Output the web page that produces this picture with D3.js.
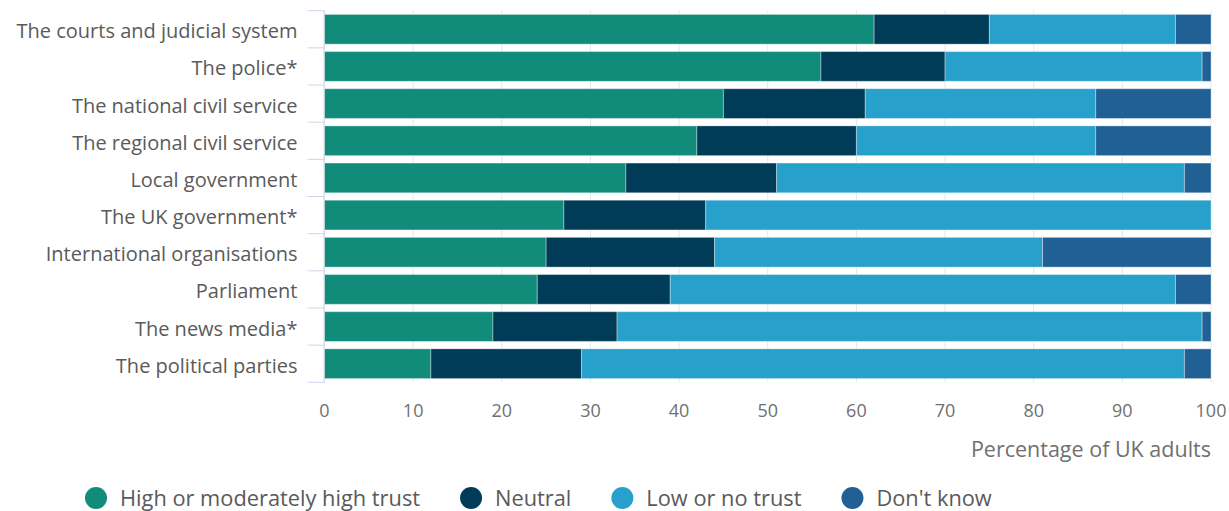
<!DOCTYPE html>
<html>
<head>
<meta charset="utf-8">
<script src="https://cdn.jsdelivr.net/npm/d3@7"></script>
<style>
	body { margin: 0; background: #fff; }
	text { font-family: 'Open Sans', sans-serif; }
</style>
</head>
<body>
<div id="chart"></div>
<script>
const categories = [
	'The courts and judicial system',
	'The police*',
	'The national civil service',
	'The regional civil service',
	'Local government',
	'The UK government*',
	'International organisations',
	'Parliament',
	'The news media*',
	'The political parties'
];
const seriesNames = ['High or moderately high trust', 'Neutral', 'Low or no trust', "Don't know"];
const highTrust = [62, 56, 45, 42, 34, 27, 25, 24, 19, 12];
const neutral = [13, 14, 16, 18, 17, 16, 19, 15, 14, 17];
const lowTrust = [21, 29, 26, 27, 46, 57, 37, 57, 66, 68];
const dontKnow = [4, 1, 13, 13, 3, 0, 19, 4, 1, 3];
const xTicks = [0, 10, 20, 30, 40, 50, 60, 70, 80, 90, 100];
const axisTitle = 'Percentage of UK adults';

const colors = ['#118c7b', '#003c57', '#27a0cc', '#206095'];

const W = 1229, H = 511;
const margin = { top: 10.7, right: 18, bottom: 128.7, left: 324.5 },
	width = W - margin.left - margin.right,
	height = H - margin.top - margin.bottom;

const svg = d3
	.select('#chart')
	.append('svg')
	.attr('width', W)
	.attr('height', H);

const g = svg.append('g').attr('transform', `translate(${margin.left},${margin.top})`);

const rows = categories.map((c, i) => ({
	name: c,
	values: [highTrust[i], neutral[i], lowTrust[i], dontKnow[i]]
}));

const x = d3.scaleLinear().domain([0, 100]).range([0, width]);
const y = d3.scaleBand().domain(categories).range([0, height]).paddingInner(0.2).paddingOuter(0.1);

// grid lines
g.selectAll('.grid')
	.data(xTicks)
	.enter()
	.append('line')
	.attr('x1', (d) => x(d))
	.attr('x2', (d) => x(d))
	.attr('y1', 0)
	.attr('y2', height)
	.attr('stroke', '#e6e6e6')
	.attr('stroke-width', 1);

// stacked bars
const stack = d3.stack().keys([0, 1, 2, 3]).value((d, k) => d.values[k]);
const layers = stack(rows);

layers.forEach((layer, k) => {
	g.selectAll('.bar' + k)
		.data(layer)
		.enter()
		.append('rect')
		.attr('x', (d) => x(d[0]))
		.attr('width', (d) => x(d[1]) - x(d[0]))
		.attr('y', (d) => y(d.data.name))
		.attr('height', y.bandwidth())
		.attr('fill', colors[k])
		.attr('stroke', 'rgba(255,255,255,0.35)')
		.attr('stroke-width', 1);
});

// y axis (ticks at band edges)
const yAxis = g.append('g');
yAxis.append('line')
	.attr('x1', -0.5).attr('x2', -0.5)
	.attr('y1', 0).attr('y2', height)
	.attr('stroke', '#ccd6eb');
const edges = categories.map((c) => y(c) - (y.step() * y.paddingInner()) / 2);
edges.push(height);
edges[0] = 0;
yAxis.selectAll('.tick')
	.data(edges)
	.enter()
	.append('line')
	.attr('x1', -17).attr('x2', 0)
	.attr('y1', (d) => d).attr('y2', (d) => d)
	.attr('stroke', '#ccd6eb');
yAxis.selectAll('.lab')
	.data(categories)
	.enter()
	.append('text')
	.attr('x', -27)
	.attr('y', (d) => y(d) + y.bandwidth() / 2)
	.attr('dy', '0.45em')
	.attr('text-anchor', 'end')
	.attr('font-size', 20)
	.attr('fill', '#5a5a5a')
	.text((d) => d);

// x axis labels
const xAxis = g.append('g').attr('transform', `translate(0, ${height})`);
xAxis.selectAll('text')
	.data(xTicks)
	.enter()
	.append('text')
	.attr('x', (d) => x(d))
	.attr('y', 35)
	.attr('text-anchor', 'middle')
	.attr('font-size', 18)
	.attr('fill', '#707070')
	.text((d) => d);

xAxis.append('text')
	.attr('x', width)
	.attr('y', 75)
	.attr('text-anchor', 'end')
	.attr('font-size', 21.5)
	.attr('fill', '#707070')
	.text(axisTitle);

// legend
const legend = svg.append('g').attr('transform', 'translate(0, 498)');
let lx = 85;
seriesNames.forEach((name, k) => {
	legend.append('circle')
		.attr('cx', lx + 11)
		.attr('cy', 0)
		.attr('r', 11)
		.attr('fill', colors[k]);
	const t = legend.append('text')
		.attr('x', lx + 35)
		.attr('y', 0)
		.attr('dy', '0.38em')
		.attr('font-size', 21.8)
		.attr('fill', '#5a5a5a')
		.text(name);
	lx += 35 + t.node().getComputedTextLength() + 40;
});
</script>
</body>
</html>
